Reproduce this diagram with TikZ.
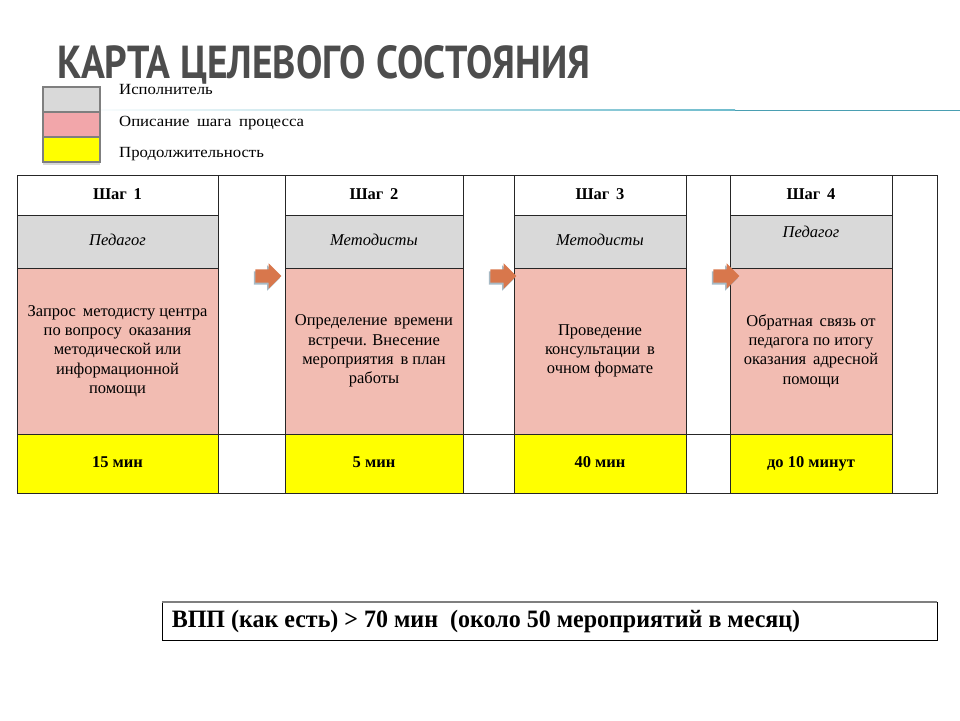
\documentclass[tikz,border=0pt]{standalone}
\usepackage{fontspec}
\setmainfont{Liberation Serif}
\newfontfamily\titlefont{PT Sans}
\usetikzlibrary{shapes.arrows,shadows}
\definecolor{cellgray}{HTML}{D9D9D9}
\definecolor{cellpink}{HTML}{F2BCB2}
\definecolor{cellyellow}{HTML}{FFFF00}
\definecolor{legpink}{HTML}{F2A6AA}
\definecolor{legborder}{HTML}{7F7F7F}
\definecolor{arroworange}{HTML}{D8774C}
\definecolor{arrowshade}{HTML}{5F8296}
\definecolor{titlegray}{HTML}{4D4D4D}
\definecolor{rulelight}{HTML}{6FBCCD}
\definecolor{ruledark}{HTML}{4A9FB2}
\tikzset{
  cell/.style={draw=black!85, line width=0.9pt, inner sep=3pt, align=center,
    font=\fontsize{16.5}{19.3}\selectfont},
  oneline/.style={text height=11.5pt, text depth=3.5pt},
  legbox/.style={draw=legborder, line width=2.6pt, minimum width=57pt, minimum height=25pt, inner sep=0pt},
  legtext/.style={anchor=base west, inner sep=0pt, font=\fontsize{15.5}{17}\selectfont},
  steparrow/.style={single arrow, fill=arroworange, minimum height=26pt,
    single arrow head extend=6pt, inner sep=0pt,
    drop shadow={shadow xshift=-1.5pt, shadow yshift=-2pt, fill=arrowshade, opacity=0.55}}
}
\begin{document}
\begin{tikzpicture}[x=1pt,y=-1pt]
\useasboundingbox (0,0) rectangle (960,720);
% title
\node[anchor=base west, inner sep=0pt, text=titlegray] (title) at (57,78.5)
  {\resizebox{533pt}{33pt}{\titlefont\bfseries КАРТА ЦЕЛЕВОГО СОСТОЯНИЯ}};
% rule under the title
\shade[left color=white, right color=rulelight] (67,109.3) rectangle (735,110.7);
\draw[ruledark, line width=0.9pt] (735,110) -- (960,110);
% legend
\node[fill=white, minimum width=57pt, minimum height=75pt, inner sep=0pt,
  drop shadow={shadow xshift=0pt, shadow yshift=-3pt, opacity=0.3}] (legframe) at (71.5,124.5) {};
\node[legbox, fill=cellgray] (leg1) at (71.5,99.5) {};
\node[legbox, fill=legpink] (leg2) at (71.5,124.5) {};
\node[legbox, fill=cellyellow] (leg3) at (71.5,149.5) {};
\node[legtext] (legt1) at (119,94) {\scalebox{1.08}[1]{Исполнитель}};
\node[legtext] (legt2) at (119,126) {\scalebox{1.08}[1]{Описание\hspace{3pt} шага\hspace{3pt} процесса}};
\node[legtext] (legt3) at (119,157) {\scalebox{1.08}[1]{Продолжительность}};
% step 1
\node[cell, oneline, minimum width=201pt, minimum height=40pt] (h1) at (117.5,195) {\bfseries Шаг\, 1};
\node[cell, oneline, fill=cellgray, minimum width=201pt, minimum height=53pt] (p1) at (117.5,241.5) {\itshape Педагог};
\node[cell, fill=cellpink, minimum width=201pt, minimum height=166pt] (d1) at (117.5,351)
  {Запрос\, методисту центра\\по вопросу\, оказания\\методической или\\информационной\\помощи};
\node[cell, oneline, fill=cellyellow, minimum width=201pt, minimum height=59pt] (t1) at (117.5,463.5) {\bfseries 15 мин};
% gap 1
\node[cell, minimum width=67pt, minimum height=259pt] (ga1) at (251.5,304.5) {};
\node[cell, minimum width=67pt, minimum height=59pt] (gb1) at (251.5,463.5) {};
% step 2
\node[cell, oneline, minimum width=178pt, minimum height=40pt] (h2) at (374,195) {\bfseries Шаг\, 2};
\node[cell, oneline, fill=cellgray, minimum width=178pt, minimum height=53pt] (p2) at (374,241.5) {\itshape Методисты};
\node[cell, fill=cellpink, minimum width=178pt, minimum height=166pt] (d2) at (374,351)
  {Определение\, времени\\встречи. Внесение\\мероприятия\, в план\\работы};
\node[cell, oneline, fill=cellyellow, minimum width=178pt, minimum height=59pt] (t2) at (374,463.5) {\bfseries 5 мин};
% gap 2
\node[cell, minimum width=51pt, minimum height=259pt] (ga2) at (488.5,304.5) {};
\node[cell, minimum width=51pt, minimum height=59pt] (gb2) at (488.5,463.5) {};
% step 3
\node[cell, oneline, minimum width=172pt, minimum height=40pt] (h3) at (600,195) {\bfseries Шаг\, 3};
\node[cell, oneline, fill=cellgray, minimum width=172pt, minimum height=53pt] (p3) at (600,241.5) {\itshape Методисты};
\node[cell, fill=cellpink, minimum width=172pt, minimum height=166pt] (d3) at (600,351)
  {Проведение\\консультации\, в\\очном формате};
\node[cell, oneline, fill=cellyellow, minimum width=172pt, minimum height=59pt] (t3) at (600,463.5) {\bfseries 40 мин};
% gap 3
\node[cell, minimum width=44pt, minimum height=259pt] (ga3) at (708,304.5) {};
\node[cell, minimum width=44pt, minimum height=59pt] (gb3) at (708,463.5) {};
% step 4
\node[cell, oneline, minimum width=162pt, minimum height=40pt] (h4) at (811,195) {\bfseries Шаг\, 4};
\node[cell, fill=cellgray, minimum width=162pt, minimum height=53pt] (p4) at (811,241.5) {};
\node[inner sep=0pt, oneline, font=\fontsize{16.5}{19.3}\selectfont\itshape] (p4t) at (811,233) {Педагог};
\node[cell, fill=cellpink, minimum width=162pt, minimum height=166pt] (d4) at (811,351)
  {Обратная\, связь от\\педагога по итогу\\оказания\, адресной\\помощи};
\node[cell, oneline, fill=cellyellow, minimum width=162pt, minimum height=59pt] (t4) at (811,463.5) {\bfseries до 10 минут};
% last empty column
\node[cell, minimum width=45pt, minimum height=318pt] (g4) at (914.5,334) {};
% arrows
\node[steparrow] (ar1) at (265,276) {\rule{0pt}{13pt}};
\node[steparrow] (ar2) at (500,276) {\rule{0pt}{13pt}};
\node[steparrow] (ar3) at (723,276) {\rule{0pt}{13pt}};
% summary box
\node[draw=black, line width=0.9pt, minimum width=775pt, minimum height=38pt, inner sep=0pt] (vpp) at (549.5,621) {};
\draw[legborder, line width=2pt] (vpp.north west) -- (vpp.north east);
\node[anchor=west, inner sep=0pt, font=\fontsize{25}{28}\selectfont\bfseries] (vppt) at ([xshift=10pt]vpp.west)
  {\scalebox{0.96}[1]{ВПП (как есть) > 70 мин\ \ (около 50 мероприятий в месяц)}};
\end{tikzpicture}
\end{document}
